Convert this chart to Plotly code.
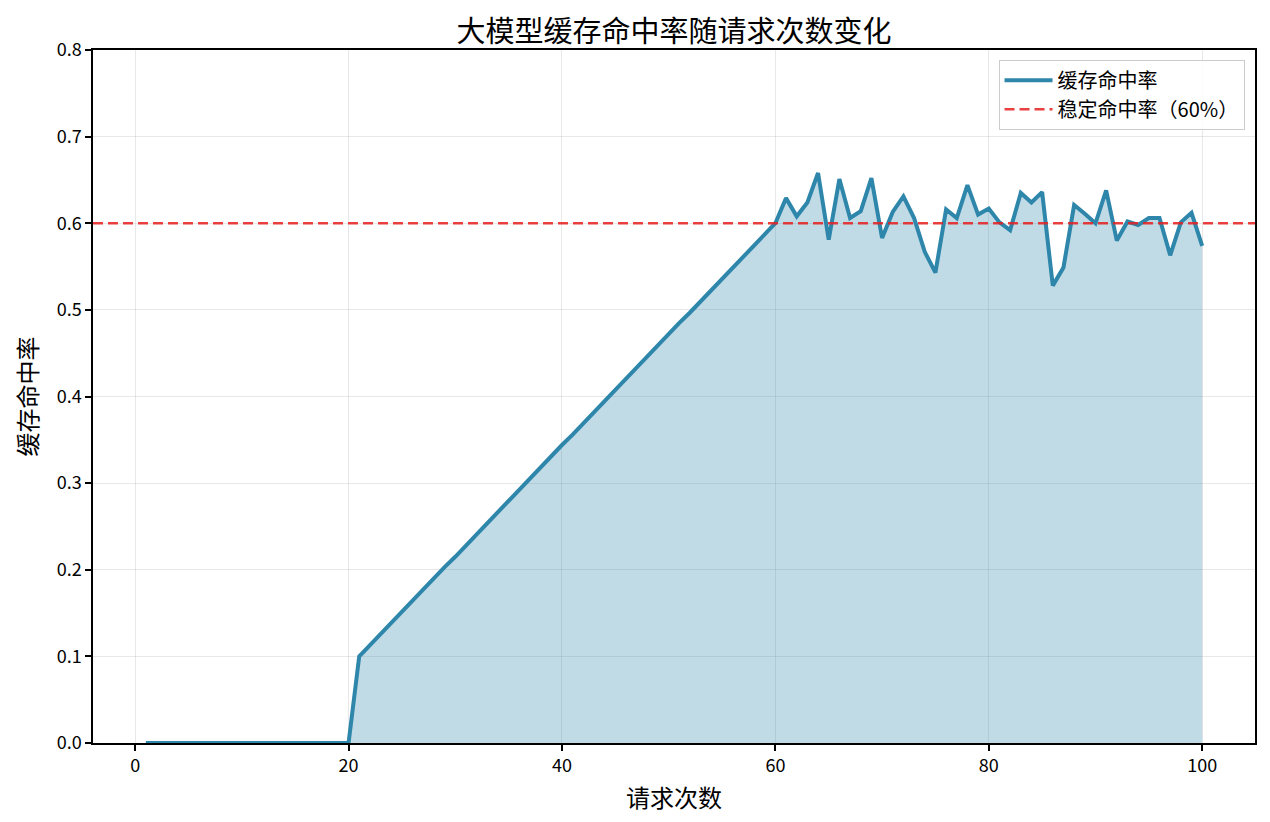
import plotly.graph_objects as go

# request index and hit rate
requests = list(range(1, 101))
hit_rate = [
    0, 0, 0, 0, 0, 0, 0, 0, 0, 0,
    0, 0, 0, 0, 0, 0, 0, 0, 0, 0,
    0.100, 0.113, 0.126, 0.138, 0.151, 0.164, 0.177, 0.190, 0.203, 0.215,
    0.228, 0.241, 0.254, 0.267, 0.279, 0.292, 0.305, 0.318, 0.331, 0.344,
    0.356, 0.369, 0.382, 0.395, 0.408, 0.421, 0.433, 0.446, 0.459, 0.472,
    0.485, 0.497, 0.510, 0.523, 0.536, 0.549, 0.562, 0.574, 0.587, 0.600,
    0.629, 0.608, 0.624, 0.658, 0.581, 0.651, 0.606, 0.614, 0.652, 0.583,
    0.613, 0.631, 0.606, 0.567, 0.543, 0.616, 0.606, 0.644, 0.610, 0.617,
    0.601, 0.592, 0.635, 0.624, 0.636, 0.528, 0.549, 0.621, 0.611, 0.600,
    0.638, 0.580, 0.602, 0.598, 0.606, 0.606, 0.563, 0.601, 0.612, 0.574,
]
stable_rate = 0.6

y_ticks = [0.0, 0.1, 0.2, 0.3, 0.4, 0.5, 0.6, 0.7, 0.8]
x_ticks = [0, 20, 40, 60, 80, 100]

FONT = "Noto Sans CJK SC, SimHei, sans-serif"

fig = go.Figure()

# filled area under the curve
fig.add_trace(go.Scatter(
    x=requests, y=hit_rate, mode="lines", fill="tozeroy",
    fillcolor="rgba(46,134,171,0.3)", line=dict(width=0, color="rgba(46,134,171,0)"),
    showlegend=False, hoverinfo="skip",
))

# main line
fig.add_trace(go.Scatter(
    x=requests, y=hit_rate, mode="lines", name="缓存命中率",
    line=dict(color="#2E86AB", width=4),
))

# stable hit-rate reference line
fig.add_shape(
    type="line", xref="x domain", x0=0, x1=1, yref="y", y0=stable_rate, y1=stable_rate,
    line=dict(color="rgba(230,30,30,0.85)", width=2.5, dash="10px,5px"),
    showlegend=True, name="稳定命中率（60%）",
)

# page has ~8px body margin, so the figure is a bit smaller than the window
fig.update_layout(
    width=1262, height=814,
    margin=dict(l=85, r=15, t=42, b=79),
    paper_bgcolor="white", plot_bgcolor="white",
    font=dict(family=FONT, size=18, color="black"),
    title=dict(
        text="大模型缓存命中率随请求次数变化",
        x=0.5, xref="paper", y=1, yref="paper", yanchor="bottom",
        pad=dict(b=8),
        font=dict(family=FONT, size=29, color="black"),
    ),
    legend=dict(
        x=0.991, xanchor="right", y=0.986, yanchor="top",
        bgcolor="rgba(255,255,255,0.85)", bordercolor="#cccccc", borderwidth=1,
        font=dict(family=FONT, size=20), itemwidth=48,
    ),
    showlegend=True,
)

fig.update_xaxes(
    range=[-3.95, 104.95], tickvals=x_ticks,
    showline=True, linecolor="black", linewidth=1.5, mirror=True,
    ticks="outside", ticklen=6, tickwidth=1.5, tickcolor="black",
    showgrid=True, gridcolor="rgba(180,180,180,0.3)", gridwidth=1,
    zeroline=False,
    title=dict(text="请求次数", font=dict(family=FONT, size=24), standoff=14),
)
fig.update_yaxes(
    range=[0, 0.8], tickvals=y_ticks, tickformat=".1f",
    showline=True, linecolor="black", linewidth=1.5, mirror=True,
    ticks="outside", ticklen=6, tickwidth=1.5, tickcolor="black",
    showgrid=True, gridcolor="rgba(180,180,180,0.3)", gridwidth=1,
    zeroline=False,
    title=dict(text="缓存命中率", font=dict(family=FONT, size=24), standoff=12),
)

fig.write_html("out.html")
